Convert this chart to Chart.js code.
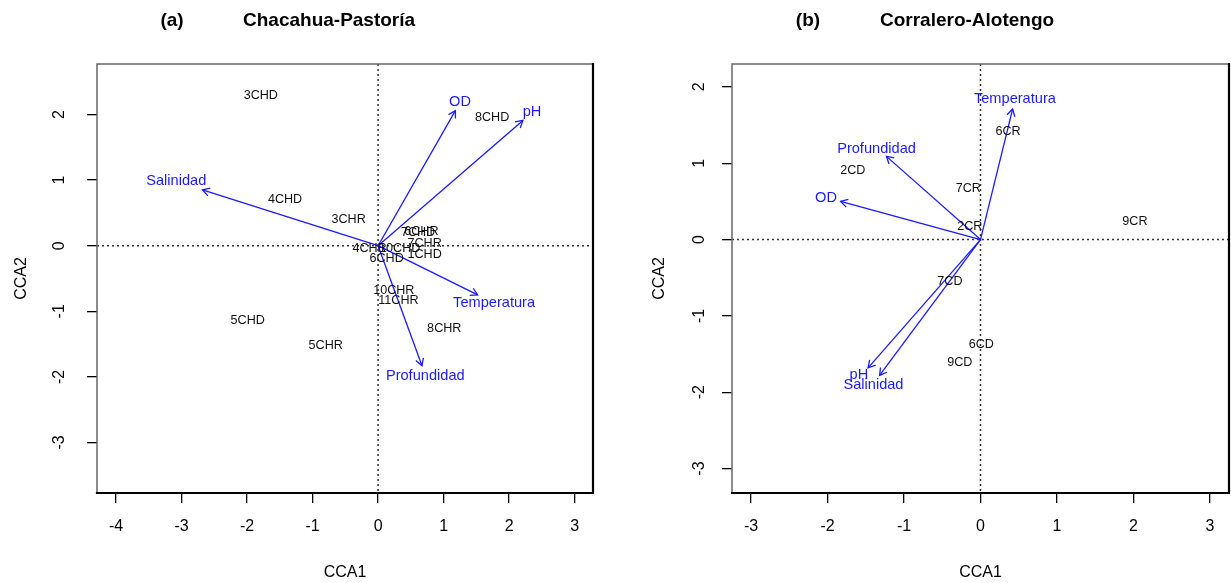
<!DOCTYPE html>
<html>
<head>
<meta charset="utf-8">
<script src="https://cdn.jsdelivr.net/npm/chart.js@4/dist/chart.umd.min.js"></script>
<style>
  body { margin: 0; background: #fff; }
  #wrap { position: relative; width: 1231px; height: 583px; }
  canvas { position: absolute; top: 0; }
</style>
</head>
<body>
<div id="wrap">
  <canvas id="panelA" width="615" height="583" style="left:0"></canvas>
  <canvas id="panelB" width="616" height="583" style="left:615px"></canvas>
</div>
<script>
// ---- panel (a) Chacahua-Pastoría ----
const xTicksA = [-4, -3, -2, -1, 0, 1, 2, 3];
const yTicksA = [-3, -2, -1, 0, 1, 2];
const sitesA  = ['3CHD', '8CHD', '4CHD', '3CHR', '6CHR', '7CHD', '7CHR', '10CHD', '1CHD', '4CHR', '6CHD', '10CHR', '11CHR', '5CHD', '5CHR', '8CHR'];
const sitesAx = [-1.79, 1.74, -1.42, -0.45, 0.66, 0.61, 0.71, 0.33, 0.71, -0.13, 0.13, 0.24, 0.31, -1.99, -0.80, 1.01];
const sitesAy = [2.29, 1.96, 0.71, 0.40, 0.22, 0.20, 0.04, -0.05, -0.13, -0.05, -0.19, -0.68, -0.83, -1.14, -1.52, -1.26];
const envA    = ['OD', 'pH', 'Salinidad', 'Temperatura', 'Profundidad'];
const envAx   = [1.18, 2.21, -2.68, 1.52, 0.67];
const envAy   = [2.06, 1.91, 0.85, -0.75, -1.83];
const envAlx  = [1.25, 2.35, -3.08, 1.77, 0.72];
const envAly  = [2.19, 2.04, 0.98, -0.87, -1.98];

// ---- panel (b) Corralero-Alotengo ----
const xTicksB = [-3, -2, -1, 0, 1, 2, 3];
const yTicksB = [-3, -2, -1, 0, 1, 2];
const sitesB  = ['6CR', '2CD', '7CR', '2CR', '9CR', '7CD', '6CD', '9CD'];
const sitesBx = [0.36, -1.67, -0.16, -0.14, 2.02, -0.40, 0.01, -0.27];
const sitesBy = [1.42, 0.91, 0.67, 0.17, 0.24, -0.55, -1.38, -1.61];
const envB    = ['Temperatura', 'Profundidad', 'OD', 'pH', 'Salinidad'];
const envBx   = [0.42, -1.23, -1.83, -1.47, -1.32];
const envBy   = [1.71, 1.09, 0.50, -1.68, -1.78];
const envBlx  = [0.45, -1.36, -2.02, -1.59, -1.40];
const envBly  = [1.84, 1.19, 0.54, -1.77, -1.90];

const FONT = "'Liberation Sans', Arial, sans-serif";
const BLUE = '#1a1aff';

function arrowHead(ctx, x0, y0, x1, y1, len) {
    const a = Math.atan2(y1 - y0, x1 - x0);
    ctx.beginPath();
    ctx.moveTo(x1 - len * Math.cos(a - Math.PI / 6), y1 - len * Math.sin(a - Math.PI / 6));
    ctx.lineTo(x1, y1);
    ctx.lineTo(x1 - len * Math.cos(a + Math.PI / 6), y1 - len * Math.sin(a + Math.PI / 6));
    ctx.stroke();
}

// zero lines, arrow heads, text labels, box and panel title
const biplot = {
    id: 'biplot',
    beforeDatasetsDraw(chart) {
        const { ctx, chartArea: ca, scales: { x, y } } = chart;
        const x0 = x.getPixelForValue(0), y0 = y.getPixelForValue(0);
        ctx.save();
        ctx.strokeStyle = '#333';
        ctx.lineWidth = 1.5;
        ctx.setLineDash([2, 3]);
        ctx.beginPath();
        ctx.moveTo(x0, ca.top); ctx.lineTo(x0, ca.bottom);
        ctx.moveTo(ca.left, y0); ctx.lineTo(ca.right, y0);
        ctx.stroke();
        ctx.restore();
    },
    afterDatasetsDraw(chart, args, opts) {
        const { ctx, chartArea: ca, scales: { x, y } } = chart;
        ctx.save();
        // arrow heads
        chart.data.datasets.forEach((ds, i) => {
            if (!ds.isArrow) return;
            const pts = chart.getDatasetMeta(i).data;
            ctx.strokeStyle = BLUE;
            ctx.lineWidth = 1.3;
            arrowHead(ctx, pts[0].x, pts[0].y, pts[1].x, pts[1].y, 8);
        });
        // site labels
        ctx.textAlign = 'center';
        ctx.textBaseline = 'middle';
        ctx.fillStyle = '#111';
        ctx.font = '12.6px ' + FONT;
        chart.getDatasetMeta(0).data.forEach((p, i) => ctx.fillText(opts.sites[i], p.x, p.y));
        // variable labels
        ctx.fillStyle = BLUE;
        ctx.font = '14.6px ' + FONT;
        opts.env.forEach((name, i) => {
            ctx.fillText(name, x.getPixelForValue(opts.lx[i]), y.getPixelForValue(opts.ly[i]));
        });
        // box
        ctx.lineCap = 'square';
        ctx.strokeStyle = '#666';
        ctx.lineWidth = 1.5;
        ctx.beginPath();
        ctx.moveTo(ca.left, ca.bottom); ctx.lineTo(ca.left, ca.top); ctx.lineTo(ca.right, ca.top);
        ctx.stroke();
        ctx.strokeStyle = '#000';
        ctx.lineWidth = 2.2;
        ctx.beginPath();
        ctx.moveTo(ca.right, ca.top); ctx.lineTo(ca.right, ca.bottom); ctx.lineTo(ca.left, ca.bottom);
        ctx.stroke();
        // title
        ctx.fillStyle = '#000';
        ctx.font = 'bold 19px ' + FONT;
        ctx.textAlign = 'center';
        ctx.fillText(opts.tag, opts.tagX, opts.titleY);
        ctx.textAlign = 'left';
        ctx.fillText(opts.title, opts.titleX, opts.titleY);
        ctx.restore();
    }
};

function makeBiplot(id, d) {
    const datasets = [{
        data: d.sx.map((v, i) => ({ x: v, y: d.sy[i] })),
        pointRadius: 0,
        showLine: false
    }];
    d.env.forEach((name, i) => {
        datasets.push({
            isArrow: true,
            data: [{ x: 0, y: 0 }, { x: d.ex[i], y: d.ey[i] }],
            showLine: true,
            borderColor: BLUE,
            borderWidth: 1.3,
            pointRadius: 0
        });
    });
    const tickFont = { family: FONT, size: 16 };
    return new Chart(document.getElementById(id), {
        type: 'scatter',
        data: { datasets },
        options: {
            responsive: false,
            animation: false,
            devicePixelRatio: 1,
            layout: { padding: { left: 0, right: d.padRight, top: 64, bottom: 0 } },
            plugins: {
                legend: { display: false },
                tooltip: { enabled: false },
                biplot: {
                    sites: d.sites, env: d.env, lx: d.lx, ly: d.ly,
                    tag: d.tag, tagX: d.tagX, title: d.title, titleX: d.titleX, titleY: 21
                }
            },
            scales: {
                x: {
                    type: 'linear', min: d.xMin, max: d.xMax,
                    afterBuildTicks: s => { s.ticks = d.xTicks.map(v => ({ value: v })); },
                    afterFit: s => { s.height = 90; },
                    grid: { drawOnChartArea: false, drawTicks: true, tickLength: 10, color: '#000', lineWidth: 1.3 },
                    border: { display: false },
                    ticks: { font: tickFont, color: '#000', padding: 14, maxRotation: 0 },
                    title: { display: true, text: 'CCA1', font: tickFont, color: '#000', padding: { top: 0, bottom: 1 } }
                },
                y: {
                    type: 'linear', min: d.yMin, max: d.yMax,
                    afterBuildTicks: s => { s.ticks = d.yTicks.map(v => ({ value: v })); },
                    afterFit: s => { s.width = d.yWidth; },
                    grid: { drawOnChartArea: false, drawTicks: true, tickLength: 10, color: '#000', lineWidth: 1.3 },
                    border: { display: false },
                    ticks: { font: tickFont, color: '#000', padding: d.yPad, minRotation: 90, maxRotation: 90, crossAlign: 'center' },
                    title: { display: true, text: 'CCA2', font: tickFont, color: '#000', padding: { top: d.yTitlePad, bottom: 0 } }
                }
            }
        },
        plugins: [biplot]
    });
}

makeBiplot('panelA', {
    sites: sitesA, sx: sitesAx, sy: sitesAy,
    env: envA, ex: envAx, ey: envAy, lx: envAlx, ly: envAly,
    xTicks: xTicksA, yTicks: yTicksA,
    xMin: -4.29, xMax: 3.28, yMin: -3.77, yMax: 2.77,
    yWidth: 97, padRight: 22, yPad: 20, yTitlePad: 12,
    tag: '(a)', tagX: 172, title: 'Chacahua-Pastoría', titleX: 243
});

makeBiplot('panelB', {
    sites: sitesB, sx: sitesBx, sy: sitesBy,
    env: envB, ex: envBx, ey: envBy, lx: envBlx, ly: envBly,
    xTicks: xTicksB, yTicks: yTicksB,
    xMin: -3.25, xMax: 3.25, yMin: -3.32, yMax: 2.30,
    yWidth: 117, padRight: 2, yPad: 15, yTitlePad: 35,
    tag: '(b)', tagX: 193, title: 'Corralero-Alotengo', titleX: 265
});
</script>
</body>
</html>
